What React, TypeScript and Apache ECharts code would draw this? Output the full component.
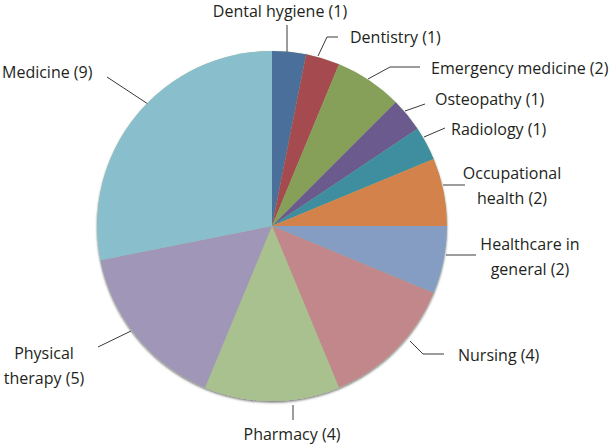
import React, { useEffect, useRef } from "react";
import * as echarts from "echarts";

const categories = [
  "Dental hygiene",
  "Dentistry",
  "Emergency medicine",
  "Osteopathy",
  "Radiology",
  "Occupational\nhealth",
  "Healthcare in\ngeneral",
  "Nursing",
  "Pharmacy",
  "Physical\ntherapy",
  "Medicine",
];
const counts = [1, 1, 2, 1, 1, 2, 2, 4, 4, 5, 9];
const colors = [
  "#4b6f9b",
  "#a54b50",
  "#86a05a",
  "#6b5a8d",
  "#3f8e9f",
  "#d4824b",
  "#859dc3",
  "#c2878a",
  "#a9c18f",
  "#a096b8",
  "#89bfcc",
];
// label anchor positions [x, y, align]
const labelPos: [number, number, string][] = [
  [280, 11, "center"],
  [350, 37, "left"],
  [431, 68, "left"],
  [435, 99, "left"],
  [451, 129, "left"],
  [512, 185, "center"],
  [530, 256, "center"],
  [458, 355, "left"],
  [292, 434, "center"],
  [44, 365, "center"],
  [2, 72, "left"],
];
// leader line geometry
const leaderLines: number[][][] = [
  [[287, 52], [287, 25]],
  [[318, 56], [327, 37], [338, 37]],
  [[368, 79], [390, 67], [420, 67]],
  [[405, 111], [425, 104]],
  [[424, 137], [445, 128]],
  [[443, 185], [465, 185]],
  [[446, 255], [476, 255]],
  [[410, 341], [423, 354], [444, 354]],
  [[293, 405], [293, 420]],
  [[131, 331], [98, 347]],
  [[148, 104], [107, 77]],
];

export default function App() {
  const ref = useRef<HTMLDivElement>(null);
  useEffect(() => {
    const chart = echarts.init(ref.current!, null, { renderer: "svg" });
    const total = counts.reduce((a, b) => a + b, 0);
    chart.setOption({
      animation: false,
      backgroundColor: "#ffffff",
      series: [
        {
          type: "pie",
          z: 1,
          silent: true,
          center: [272, 226],
          radius: [0, 175],
          label: { show: false },
          labelLine: { show: false },
          data: [
            {
              name: "shadow",
              value: total,
              itemStyle: {
                color: "#a9c18f",
                shadowColor: "rgba(0,0,0,0.55)",
                shadowBlur: 2,
                shadowOffsetY: 1.5,
              },
            },
          ],
        },
        {
          type: "pie",
          z: 2,
          center: [272, 226],
          radius: [0, 175],
          startAngle: 90,
          clockwise: true,
          data: categories.map((c, i) => ({
            name: c,
            value: counts[i],
            itemStyle: { color: colors[i] },
          })),
          label: {
            show: true,
            formatter: (p: any) => `${p.name} (${p.value})`,
            fontFamily: "Open Sans",
            fontSize: 16,
            color: "#231f20",
            lineHeight: 25,
            letterSpacing: -0.6,
            overflow: "none",
          },
          labelLine: {
            show: true,
            lineStyle: { color: "#3a3a3a", width: 1 },
          },
          labelLayout: (params: any) => {
            const p = labelPos[params.dataIndex];
            return {
              x: p[0],
              y: p[1],
              align: p[2],
              verticalAlign: "middle",
              labelLinePoints: leaderLines[params.dataIndex],
            };
          },
        },
      ],
    });
    return () => chart.dispose();
  }, []);
  return (
    <div
      ref={ref}
      style={{ position: "absolute", left: 0, top: 0, width: 612, height: 446 }}
    />
  );
}
